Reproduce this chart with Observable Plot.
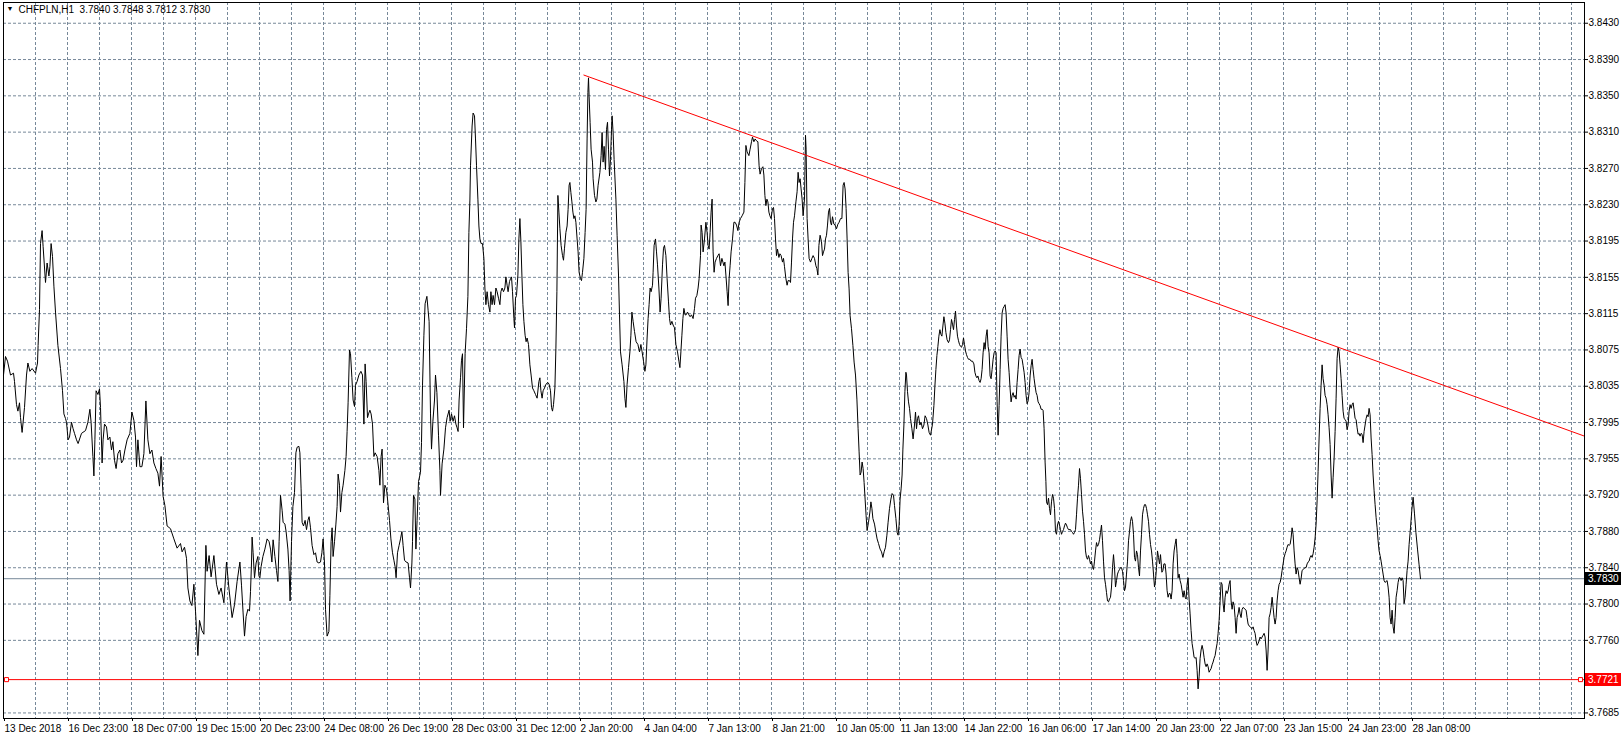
<!DOCTYPE html>
<html><head><meta charset="utf-8">
<script src="https://cdn.jsdelivr.net/npm/d3@7"></script>
<script src="https://cdn.jsdelivr.net/npm/@observablehq/plot@0.6"></script>
<style>
html,body{margin:0;padding:0;background:#fff;overflow:hidden}
#chart{width:1623px;height:739px}
</style></head><body><div id="chart"></div>
<script>
// ---------- data ----------
const symbolName = "CHFPLN,H1";
const lastOHLC = ["3.7840", "3.7848", "3.7812", "3.7830"];

const timeTickLabels = ["13 Dec 2018","16 Dec 23:00","18 Dec 07:00","19 Dec 15:00","20 Dec 23:00","24 Dec 08:00","26 Dec 19:00","28 Dec 03:00","31 Dec 12:00","2 Jan 20:00","4 Jan 04:00","7 Jan 13:00","8 Jan 21:00","10 Jan 05:00","11 Jan 13:00","14 Jan 22:00","16 Jan 06:00","17 Jan 14:00","20 Jan 23:00","22 Jan 07:00","23 Jan 15:00","24 Jan 23:00","28 Jan 08:00"];
const timeTickBars = [0,32,64,96,128,160,192,224,256,288,320,352,384,416,448,480,512,544,576,608,640,672,704];
const gridBarStep = 16;

// the level just above 3.7685 is hidden under the 3.7721 line and tag
const priceTickLabels = ["3.8430","3.8390","3.8350","3.8310","3.8270","3.8230","3.8195","3.8155","3.8115","3.8075","3.8035","3.7995","3.7955","3.7920","3.7880","3.7840","3.7800","3.7760","","3.7685"];
const priceTop = 3.8430, priceBottom = 3.7685;

const xDomain = [0, 790.5];
const yDomain = [3.76790, 3.84524];

// [bar index, close]
const closeSeries = [
[0,3.8050],[1,3.8070],[2,3.8065],[3.5,3.8050],[5,3.8052],[5.5,3.8043],[6.5,3.8018],[7.2,3.8011],[8,3.8020],[8.5,3.8004],[9.3,3.7988],[9.8,3.7999],[10.5,3.8015],[11.5,3.8050],[12.2,3.8063],[13.2,3.8054],[14.3,3.8057],[16,3.8052],[17,3.8063],[17.3,3.8082],[18,3.8121],[18.5,3.8192],[19.3,3.8206],[19.8,3.8189],[21,3.8150],[21.8,3.8171],[22.7,3.8157],[23.2,3.8167],[23.8,3.8192],[24.5,3.8178],[25.2,3.8146],[26,3.8118],[27.2,3.8082],[28.5,3.8057],[29.5,3.8033],[30.2,3.8008],[31,3.8003],[31.5,3.7999],[32.3,3.7980],[33,3.7983],[34,3.7999],[34.8,3.7992],[35.5,3.7987],[36.5,3.7980],[37.3,3.7976],[39,3.7987],[41,3.7990],[42.2,3.7999],[43.2,3.8013],[43.8,3.7999],[44.7,3.7962],[45.2,3.7941],[45.7,3.7980],[46.3,3.8033],[47.2,3.8029],[48,3.8035],[48.5,3.8015],[49.3,3.7955],[49.8,3.7980],[50.5,3.7997],[51.5,3.7994],[52.2,3.7980],[53.2,3.7983],[54,3.7969],[54.7,3.7978],[55.5,3.7958],[56.3,3.7949],[57.2,3.7965],[58.2,3.7969],[59,3.7955],[59.8,3.7958],[60.7,3.7969],[61.8,3.7980],[63.2,3.7987],[64.2,3.8010],[65.2,3.8001],[66,3.7983],[66.5,3.7951],[67.2,3.7980],[68.2,3.7951],[69.2,3.7951],[70.2,3.7965],[71.2,3.8022],[72.2,3.7980],[73.2,3.7965],[74.2,3.7969],[75.2,3.7955],[76.2,3.7949],[77.2,3.7944],[78,3.7930],[78.8,3.7962],[79.8,3.7919],[80.7,3.7909],[81.8,3.7887],[83.5,3.7884],[85.2,3.7873],[86.8,3.7863],[88.5,3.7868],[89.3,3.7859],[90.5,3.7864],[91.5,3.7852],[92.2,3.7820],[93.2,3.7806],[94.2,3.7801],[95.2,3.7824],[96,3.7795],[97.2,3.7747],[98,3.7785],[99.2,3.7774],[100.2,3.7770],[101.2,3.7866],[101.8,3.7838],[102.8,3.7855],[103.8,3.7832],[105.2,3.7855],[106.5,3.7824],[107.7,3.7813],[108.8,3.7820],[110.2,3.7804],[111.5,3.7848],[112.7,3.7820],[114.3,3.7788],[115.5,3.7802],[116.8,3.7827],[118.2,3.7848],
[119,3.7823],[119.8,3.7793],[120.5,3.7768],[121.3,3.7789],[122.2,3.7797],[123,3.7795],[123.5,3.7816],[124,3.7847],[124.3,3.7875],[124.8,3.7858],[125.5,3.7831],[126.3,3.7847],[127.2,3.7854],[127.7,3.7833],[128.2,3.7831],[128.8,3.7843],[129.7,3.7854],[130.7,3.7862],[131.8,3.7873],[132.8,3.7870],[133.5,3.7862],[134.2,3.7848],[134.8,3.7872],[135.7,3.7854],[136.5,3.7839],[137.2,3.7827],[137.8,3.7870],[138.5,3.7920],[139.3,3.7904],[139.8,3.7891],[140.7,3.7889],[141.3,3.7881],[142.2,3.7862],[142.8,3.7839],[143.3,3.7806],[144,3.7870],[144.7,3.7908],[145.5,3.7923],[146.2,3.7966],[146.8,3.7972],[147.7,3.7973],[148.2,3.7966],[148.8,3.7927],[149.3,3.7891],[150,3.7887],[150.8,3.7893],[151.5,3.7883],[152.2,3.7893],[152.8,3.7897],[153.5,3.7885],[154.3,3.7866],[155.2,3.7856],[156,3.7858],[156.8,3.7848],[157.7,3.7847],[158.5,3.7848],[159.2,3.7858],[159.8,3.7873],[160.5,3.7847],[161,3.7797],[161.8,3.7768],[162.7,3.7773],[163.2,3.7812],[163.8,3.7870],[164.3,3.7885],[164.8,3.7854],[165.5,3.7870],[166.2,3.7889],[166.8,3.7908],[167.3,3.7943],[168,3.7931],[168.5,3.7902],[169.2,3.7923],[169.8,3.7931],[170.7,3.7947],[171.3,3.7962],[171.8,3.7989],[172.3,3.8020],[173,3.8077],[173.5,3.8073],[174.2,3.8047],[174.8,3.8023],[175.5,3.8016],[176,3.8039],[176.8,3.8043],[177.7,3.8050],[178.7,3.8054],[179.5,3.8050],[180.2,3.7997],[180.8,3.8062],[181.3,3.8043],[182,3.8004],[182.5,3.8008],[183.2,3.8012],[183.8,3.8008],[184.5,3.7997],[185.2,3.7962],[185.8,3.7966],[186.8,3.7962],[187.7,3.7947],[188.2,3.7931],[188.8,3.7962],[189.3,3.7970],[190,3.7912],[190.7,3.7931],[191.5,3.7927],[192.2,3.7912],[193,3.7893],[193.7,3.7873],[194.5,3.7858],[195.2,3.7850],[195.8,3.7843],[196.3,3.7831],[197,3.7858],[197.8,3.7866],[198.5,3.7873],[199.2,3.7881],[199.8,3.7866],[200.5,3.7850],[201.3,3.7848],[202.3,3.7847],[203,3.7831],[203.5,3.7820],[204.2,3.7847],[204.5,3.7870],[205,3.7920],[205.7,3.7916],[206.2,3.7862],[206.8,3.7893],[207.5,3.7935],[208.5,3.7945],[209,3.7977],[209.5,3.8039],[210.2,3.8093],[210.8,3.8127],[211.7,3.8135],[212.3,3.8120],[212.8,3.8108],[213.5,3.8008],[214,3.7970],[214.7,3.8000],[215.5,3.8023],[216,3.8050],[216.7,3.8031],[217.5,3.7985],[218.2,3.7947],[218.5,3.7920],[219.3,3.7954],[220.2,3.7970],[221,3.7993],[221.8,3.8004],[222.8,3.8012],[223.3,3.8000],[224,3.8008],[224.8,3.8000],[225.5,3.8006],[226.2,3.7997],[226.8,3.7993],[227.3,3.7989],[227.8,3.8023],[228.5,3.8047],[229,3.8066],[229.5,3.8073],[230,3.7993],[230.8,3.8073],[231.5,3.8100],[232.2,3.8135],[232.7,3.8204],[233.2,3.8239],
[233.5,3.8276],[234.3,3.8319],[234.8,3.8333],[235.5,3.8330],[236,3.8305],[236.5,3.8276],[237.2,3.8240],[237.7,3.8211],[238.2,3.8197],[238.8,3.8192],[239.5,3.8192],[240.2,3.8176],[240.7,3.8144],[241.2,3.8126],[241.8,3.8140],[242.5,3.8126],[243.2,3.8118],[243.7,3.8140],[244.3,3.8126],[244.8,3.8136],[245.5,3.8126],[246.2,3.8144],[246.8,3.8140],[247.5,3.8133],[248.2,3.8126],[248.7,3.8140],[249.3,3.8144],[250,3.8140],[250.7,3.8144],[251.2,3.8156],[251.8,3.8147],[252.3,3.8140],[253,3.8151],[253.5,3.8154],[254,3.8156],[254.5,3.8140],[255.2,3.8111],[255.5,3.8101],[256,3.8133],[256.5,3.8136],[257.2,3.8158],[257.7,3.8197],[258.2,3.8219],[258.7,3.8194],[259.2,3.8158],[259.7,3.8126],[260.2,3.8108],[260.8,3.8093],[261.3,3.8086],[261.8,3.8090],[262.5,3.8083],[263.2,3.8061],[263.8,3.8050],[264.5,3.8036],[265.2,3.8033],[266,3.8029],[266.8,3.8025],[267.7,3.8043],[268.2,3.8047],[268.7,3.8033],[269.3,3.8025],[269.8,3.8033],[270.5,3.8036],[271.2,3.8040],[272.2,3.8042],[272.8,3.8040],[273.5,3.8033],[274,3.8015],[274.5,3.8011],[275,3.8018],[275.7,3.8036],[276.2,3.8079],[276.7,3.8140],[277.2,3.8244],[277.7,3.8226],[278.2,3.8208],[278.8,3.8190],[279.5,3.8179],[280,3.8174],[280.5,3.8187],[281.2,3.8204],[281.8,3.8211],[282.3,3.8229],[282.8,3.8255],[283.2,3.8258],[283.7,3.8247],[284.2,3.8237],[284.7,3.8226],[285.2,3.8219],[285.7,3.8222],[286.2,3.8215],[286.8,3.8197],[287.3,3.8183],[287.8,3.8161],[288.5,3.8154],[289,3.8152],[289.5,3.8161],[290.2,3.8176],[290.8,3.8204],[291.3,3.8229],[291.8,3.8305],[292.2,3.8355],[292.5,3.8371],[292.8,3.8351],[293.3,3.8323],[293.8,3.8294],[294.5,3.8280],[294.8,3.8262],[295.5,3.8244],[296.2,3.8237],[296.7,3.8240],[297.3,3.8255],[298.2,3.8269],[298.8,3.8287],[299.3,3.8312],[299.8,3.8280],[300.3,3.8297],[301,3.8272],[301.5,3.8315],[302,3.8323],[302.5,3.8294],[303,3.8265],[303.5,3.8283],[304,3.8315],[304.3,3.8330],[304.8,3.8312],[305.3,3.8283],[306.2,3.8240],[306.8,3.8201],[307.5,3.8158],[308,3.8115],[308.5,3.8075],[309.3,3.8061],[310.2,3.8043],[310.7,3.8025],[311.2,3.8015],[311.8,3.8040],[312.5,3.8058],[313.2,3.8075],[313.7,3.8093],[314.2,3.8118],[314.8,3.8108],[315.5,3.8097],[316.3,3.8086],[317.2,3.8083],[318,3.8075],[318.7,3.8083],[319.3,3.8075],[320,3.8065],[320.7,3.8054],[321.2,3.8061],[321.8,3.8090],[322.3,3.8111],[322.8,3.8126],[323.3,3.8144],[323.8,3.8140],[324.5,3.8147],[324.8,3.8161],[325.3,3.8190],[326,3.8197],[326.5,3.8183],[327,3.8169],[327.7,3.8144],[328.3,3.8118],[328.8,3.8133],[329.5,3.8169],[330,3.8187],[330.5,3.8190],[331.2,3.8179],[331.8,3.8154],[332.5,3.8129],[333,3.8111],[333.5,3.8104],[334.2,3.8108],[334.8,3.8104],[335.5,3.8101],[336.2,3.8083],[337,3.8075],[337.7,3.8065],[338.2,3.8058],[338.7,3.8075],[339.2,3.8093],[339.7,3.8111],[340.2,3.8122],[340.8,3.8115],[341.3,3.8115],[342,3.8118],[342.7,3.8115],[343.3,3.8113],[344,3.8115],[344.8,3.8111],[345.5,3.8122],[346,3.8133],[346.7,3.8136],[347.3,3.8144],[347.8,3.8154],[348.5,3.8179],
[348.8,3.8212],[349.3,3.8204],[349.8,3.8183],[350.5,3.8197],[351.2,3.8215],[351.8,3.8204],[352.3,3.8190],[352.8,3.8186],[353.3,3.8204],[353.8,3.8226],[354.3,3.8240],[354.8,3.8183],[355.3,3.8161],[355.8,3.8172],[356.5,3.8176],[357.2,3.8179],[357.8,3.8181],[358.5,3.8168],[359.2,3.8176],[359.7,3.8172],[360.2,3.8168],[360.7,3.8172],[361.2,3.8158],[361.8,3.8140],[362.3,3.8125],[362.8,3.8154],[363.3,3.8168],[363.8,3.8183],[364.5,3.8197],[365.2,3.8215],[365.8,3.8215],[366.5,3.8212],[367.2,3.8206],[367.8,3.8215],[368.5,3.8219],[369.3,3.8222],[370.2,3.8226],[370.7,3.8258],[371.2,3.8298],[371.8,3.8291],[372.7,3.8287],[373.3,3.8294],[374,3.8302],[374.5,3.8307],[375.2,3.8302],[375.8,3.8305],[376.5,3.8303],[377.2,3.8302],[377.8,3.8276],[378.3,3.8267],[379,3.8273],[379.7,3.8275],[380.2,3.8266],[380.7,3.8244],[381.2,3.8233],[381.7,3.8240],[382.2,3.8237],[382.7,3.8226],[383.2,3.8222],[383.8,3.8219],[384.5,3.8230],[385,3.8231],[385.5,3.8219],[386,3.8197],[386.5,3.8179],[387,3.8186],[387.7,3.8177],[388.2,3.8181],[388.8,3.8179],[389.5,3.8172],[390,3.8176],[390.5,3.8167],[391.2,3.8154],[391.8,3.8147],[392.3,3.8152],[393,3.8152],[393.5,3.8150],[394,3.8172],[394.5,3.8197],[395,3.8215],[395.5,3.8222],[396.2,3.8237],[396.8,3.8248],[397.3,3.8269],[397.8,3.8258],[398.3,3.8262],[398.8,3.8251],[399.3,3.8240],[399.8,3.8222],[400.5,3.8240],[401,3.8309],[401.3,3.8294],[401.8,3.8219],[402.3,3.8197],[402.8,3.8176],[403.5,3.8172],[404.2,3.8176],[404.8,3.8179],[405.5,3.8176],[406.2,3.8168],[406.7,3.8165],[407.2,3.8158],[407.7,3.8190],[408.3,3.8201],[409,3.8194],[409.5,3.8179],[410,3.8183],[410.5,3.8186],[411,3.8197],[411.5,3.8201],[412,3.8212],[412.5,3.8226],[413,3.8230],[413.5,3.8215],[414,3.8212],[414.5,3.8221],[415.2,3.8213],[415.8,3.8212],[416.5,3.8208],[417.2,3.8213],[417.8,3.8215],[418.5,3.8219],[419.2,3.8219],[419.8,3.8255],[420.3,3.8258],[420.8,3.8251],[421.3,3.8230],[421.8,3.8197],[422.3,3.8161],[422.8,3.8143],[423.3,3.8114],[424,3.8100],[424.7,3.8082],[425.3,3.8064],[426,3.8050],[426.7,3.8024],[427.3,3.7992],[427.8,3.7967],[428.3,3.7942],[428.8,3.7945],[429.3,3.7956],[429.8,3.7949],[430.3,3.7934],[430.8,3.7916],[431.3,3.7898],[431.8,3.7882],[432.5,3.7891],[433.2,3.7902],[433.7,3.7913],[434.2,3.7906],[434.7,3.7895],[435.5,3.7889],[436.2,3.7880],[436.8,3.7873],[437.5,3.7868],[438.3,3.7862],[439,3.7859],[439.7,3.7853],[440.3,3.7859],[441,3.7864],[441.7,3.7877],[442.3,3.7891],[443,3.7906],[443.7,3.7916],[444.3,3.7922],[445,3.7920],[445.5,3.7909],[446.2,3.7895],[446.8,3.7880],[447.3,3.7877],[447.8,3.7888],[448.3,3.7916],[448.8,3.7927],[449.3,3.7942],[449.7,3.7970],[450.2,3.7996],[450.7,3.8032],[451.2,3.8053],[451.5,3.8050],[452,3.8032],[452.5,3.8021],[453,3.8014],[453.5,3.8003],[454.2,3.7992],[454.8,3.7981],[455.5,3.7996],[456,3.8010],[456.5,3.7992],[457,3.8003],[457.5,3.8006],[458.2,3.7996],[458.8,3.7999],[459.5,3.7992],[460.2,3.7996],[460.8,3.8006],[461.5,3.8003],[462.2,3.7996],[462.8,3.7988],[463.5,3.7985],
[464.5,3.7997],[465.2,3.8017],[465.7,3.8038],[466.2,3.8056],[466.7,3.8071],[467.2,3.8081],[467.7,3.8092],[468.2,3.8099],[468.7,3.8094],[469.2,3.8092],[469.7,3.8103],[470.2,3.8113],[470.7,3.8106],[471.2,3.8096],[471.8,3.8088],[472.5,3.8085],[473,3.8088],[473.5,3.8099],[474,3.8110],[474.5,3.8105],[475,3.8099],[475.5,3.8110],[476,3.8119],[476.5,3.8103],[477,3.8092],[477.5,3.8087],[478,3.8083],[478.5,3.8081],[479,3.8080],[479.5,3.8083],[480,3.8090],[480.5,3.8083],[481,3.8076],[481.5,3.8072],[482,3.8069],[482.5,3.8067],[483.2,3.8067],[483.8,3.8065],[484.5,3.8065],[485.2,3.8062],[485.7,3.8053],[486.2,3.8049],[486.7,3.8047],[487.2,3.8049],[487.8,3.8044],[488.3,3.8042],[488.8,3.8046],[489.3,3.8056],[489.8,3.8074],[490.3,3.8085],[490.8,3.8078],[491.3,3.8092],[491.8,3.8099],[492.3,3.8081],[492.8,3.8074],[493.3,3.8049],[493.8,3.8046],[494.3,3.8056],[494.8,3.8067],[495.3,3.8074],[495.8,3.8076],[496.3,3.8074],[496.8,3.8021],[497.3,3.7985],[497.8,3.8017],[498.3,3.8056],[498.8,3.8092],[499.3,3.8117],[499.8,3.8122],[500.3,3.8124],[500.8,3.8126],[501.3,3.8117],[501.8,3.8092],[502.3,3.8067],[502.8,3.8053],[503.3,3.8035],[503.8,3.8021],[504.3,3.8028],[504.8,3.8031],[505.3,3.8026],[505.8,3.8028],[506.3,3.8024],[506.8,3.8042],[507.3,3.8056],[507.8,3.8071],[508.3,3.8078],[508.8,3.8069],[509.3,3.8067],[509.8,3.8060],[510.3,3.8053],[510.8,3.8042],[511.3,3.8028],[511.8,3.8019],[512.3,3.8022],[512.8,3.8031],[513.3,3.8049],[513.8,3.8060],[514.3,3.8067],[514.8,3.8056],[515.3,3.8046],[515.8,3.8038],[516.3,3.8031],[516.8,3.8028],[517.3,3.8021],[517.8,3.8019],[518.3,3.8017],[518.8,3.8013],[519.3,3.8013],[519.8,3.8012],[520.3,3.7992],[520.8,3.7956],[521.2,3.7935],[521.5,3.7913],[522,3.7910],[522.5,3.7917],[523,3.7906],[523.5,3.7899],[524,3.7913],[524.5,3.7921],[525,3.7917],[525.5,3.7906],[526,3.7881],[526.5,3.7878],[527,3.7888],[527.5,3.7892],[528,3.7888],[528.5,3.7883],[529,3.7878],[529.5,3.7881],[530,3.7883],[530.5,3.7887],[531,3.7890],[531.5,3.7888],[532,3.7885],[532.5,3.7883],[533.5,3.7883],[534,3.7881],[534.5,3.7880],[535,3.7878],[535.5,3.7880],[536,3.7883],[536.5,3.7899],[537,3.7917],[537.5,3.7931],[538,3.7949],[538.5,3.7938],[539,3.7921],[539.5,3.7903],[540,3.7892],[540.5,3.7878],[541,3.7860],[541.5,3.7853],[542,3.7851],[542.5,3.7855],[543,3.7851],[543.5,3.7846],[544,3.7849],[544.5,3.7842],[545,3.7840],[545.5,3.7849],[546,3.7860],[546.5,3.7869],[547,3.7865],[547.5,3.7867],[548,3.7872],[548.5,3.7880],[549,3.7888],[549.5,3.7871],[550,3.7849],[550.5,3.7831],[551,3.7824],[551.5,3.7815],[552,3.7806],[552.5,3.7805],[553,3.7808],[553.5,3.7810],[554,3.7821],[554.5,3.7842],[555,3.7856],[555.5,3.7842],[556,3.7821],[556.5,3.7828],[557,3.7835],[557.5,3.7838],[558,3.7840],[558.5,3.7842],[559,3.7842],[559.5,3.7838],[560,3.7828],[560.5,3.7817],[561,3.7821],[561.5,3.7835],[562,3.7849],[562.5,3.7871],[563,3.7881],[563.5,3.7892],[564,3.7897],[564.5,3.7892],[565,3.7878],[565.5,3.7853],[566,3.7849],[566.5,3.7860],[567,3.7856],[567.5,3.7842],[568,3.7833],[568.5,3.7860],[569,3.7878],[569.5,3.7899],[570,3.7906],[570.5,3.7910],[571,3.7910],[571.5,3.7906],[572,3.7899],[572.5,3.7892],[573,3.7878],[573.5,3.7867],[574,3.7860],[574.5,3.7849],[575,3.7835],[575.5,3.7821],[576,3.7828],[576.5,3.7842],[577,3.7860],[577.5,3.7853],[578,3.7846],[578.5,3.7856],
[579.2,3.7837],[579.7,3.7839],[580.2,3.7846],[580.8,3.7846],[581.3,3.7835],[581.8,3.7817],[582.3,3.7810],[582.8,3.7814],[583.3,3.7814],[583.8,3.7808],[584.3,3.7817],[584.8,3.7846],[585.3,3.7860],[585.8,3.7867],[586.3,3.7873],[586.8,3.7857],[587.3,3.7831],[587.8,3.7835],[588.3,3.7828],[588.8,3.7824],[589.3,3.7817],[589.8,3.7810],[590.3,3.7817],[590.8,3.7810],[591.3,3.7808],[591.8,3.7824],[592.3,3.7831],[592.8,3.7808],[593.3,3.7792],[593.8,3.7774],[594.3,3.7760],[594.8,3.7753],[595.3,3.7745],[595.8,3.7744],[596.3,3.7745],[596.8,3.7731],[597.3,3.7711],[597.8,3.7724],[598.3,3.7744],[598.8,3.7753],[599.3,3.7758],[599.8,3.7753],[600.3,3.7745],[600.8,3.7738],[601.3,3.7735],[601.8,3.7738],[602.3,3.7735],[602.8,3.7729],[603.3,3.7731],[603.8,3.7733],[604.3,3.7737],[604.8,3.7740],[605.3,3.7744],[605.8,3.7747],[606.3,3.7754],[606.8,3.7760],[607.3,3.7771],[607.8,3.7785],[608.3,3.7806],[608.8,3.7826],[609.3,3.7824],[609.8,3.7803],[610.3,3.7794],[610.8,3.7810],[611.3,3.7817],[611.8,3.7814],[612.3,3.7817],[612.8,3.7824],[613.3,3.7828],[613.8,3.7806],[614.3,3.7797],[614.8,3.7805],[615.3,3.7801],[615.8,3.7788],[616.3,3.7771],[616.8,3.7788],[617.3,3.7792],[617.8,3.7799],[618.3,3.7792],[618.8,3.7788],[619.3,3.7797],[619.8,3.7799],[620.8,3.7797],[621.3,3.7796],[621.8,3.7788],[622.3,3.7781],[622.8,3.7779],[623.3,3.7778],[624.3,3.7776],[624.8,3.7778],[625.3,3.7774],[625.8,3.7771],[626.3,3.7763],[626.8,3.7758],[627.3,3.7760],[627.8,3.7763],[628.3,3.7767],[628.8,3.7765],[629.3,3.7767],[629.8,3.7769],[630.3,3.7771],[630.8,3.7767],[631.3,3.7753],[631.8,3.7731],[632.3,3.7753],[632.8,3.7788],[633.3,3.7792],[633.8,3.7799],[634.3,3.7810],[634.8,3.7799],[635.3,3.7788],[635.8,3.7781],[636.3,3.7788],[636.8,3.7806],[637.3,3.7817],[637.8,3.7824],[638.3,3.7826],[638.8,3.7831],[639.3,3.7839],[639.8,3.7846],[640.3,3.7853],[640.8,3.7857],[641.3,3.7860],[641.8,3.7864],[642.3,3.7867],[642.8,3.7866],[643.3,3.7867],[643.8,3.7874],[644.3,3.7885],[644.8,3.7878],[645.3,3.7860],[645.8,3.7846],[646.3,3.7835],[646.8,3.7842],[647.3,3.7839],[647.8,3.7831],[648.3,3.7824],[648.8,3.7830],[649.3,3.7839],[649.8,3.7840],[650.8,3.7842],[651.3,3.7842],[651.8,3.7846],[652.3,3.7848],[652.8,3.7849],[653.3,3.7853],[653.8,3.7855],[654.3,3.7853],[654.8,3.7857],[655.3,3.7864],[655.8,3.7874],[656.3,3.7889],[656.8,3.7914],[657.3,3.7946],[657.8,3.7982],[658.3,3.8014],[658.8,3.8039],[659.3,3.8061],[659.8,3.8046],[660.3,3.8039],[660.8,3.8028],[661.3,3.8025],[661.8,3.8018],[662.3,3.8007],[662.8,3.7993],[663.3,3.7975],[663.8,3.7942],[664.3,3.7917],[664.8,3.7939],[665.3,3.7960],[665.8,3.7989],[666.3,3.8025],[666.8,3.8068],[667.3,3.8080],[667.8,3.8075],[668.3,3.8061],[668.8,3.8046],[669.3,3.8028],[669.8,3.8011],[670.3,3.8003],[670.8,3.8002],[671.3,3.8000],[671.8,3.7991],[672.3,3.7996],[672.8,3.8011],[673.3,3.8018],[673.8,3.8014],[674.3,3.8018],[674.8,3.8020],[675.3,3.8012],[675.8,3.8003],[676.3,3.8002],[676.8,3.7993],[677.3,3.7986],[677.8,3.7987],[678.3,3.7984],[678.8,3.7987],[679.3,3.7986],[679.8,3.7977],[680.3,3.7989],[680.8,3.7996],[681.3,3.8003],[681.8,3.8007],[682.3,3.8005],[682.8,3.8014],[683.3,3.8007],[683.8,3.7982],[684.3,3.7964],[684.8,3.7942],[685.3,3.7925],[685.8,3.7910],[686.3,3.7896],[686.8,3.7885],[687.3,3.7871],[687.8,3.7860],[688.3,3.7855],[688.8,3.7849],[689.3,3.7842],[689.8,3.7835],[690.3,3.7828],[690.8,3.7826],[691.8,3.7828],[692.3,3.7821],[692.8,3.7810],[693.3,3.7788],[693.8,3.7781],[694.3,3.7796],[694.8,3.7778],[695.3,3.7771],[695.8,3.7788],[696.3,3.7810],[696.8,3.7817],[697.3,3.7826],[697.8,3.7831],[698.3,3.7831],[698.8,3.7828],[699.3,3.7831],[699.8,3.7828],[700.3,3.7803],[700.8,3.7810],[701.3,3.7824],[701.8,3.7839],[702.3,3.7849],[702.8,3.7867],[703.5,3.7885],[704.2,3.7905],[704.8,3.7918],[705.5,3.7900],[706.2,3.7880],[707,3.7862],[707.8,3.7845],[708.5,3.7830]
];

// trend line (ray) anchor points: [bar index, price]
const trendLine = [[290.2, 3.8374], [790.5, 3.7984]];
const currentPrice = 3.7830;
const levelPrice = 3.7721;

// ---------- chart ----------
const W = 1623, H = 739;
const gridColor = "#778899";
const nY = priceTickLabels.length;
const yTicks = priceTickLabels.map((_, i) => priceTop - i * (priceTop - priceBottom) / (nY - 1));
const yGrid = yTicks.filter((_, i) => priceTickLabels[i] !== "");
const yLabelMap = new Map(yTicks.map((v, i) => [v, priceTickLabels[i]]));
const xLabelMap = new Map(timeTickBars.map((v, i) => [v, timeTickLabels[i]]));
const gridBars = d3.range(0, xDomain[1], gridBarStep);
const titleText = symbolName + "\u00a0\u00a0" + lastOHLC.join(" ");

const plot = Plot.plot({
  width: W, height: H,
  marginLeft: 3, marginRight: 39, marginTop: 2, marginBottom: 21,
  style: {fontFamily: "'Liberation Sans', Arial, sans-serif", fontSize: "10px", background: "#ffffff", color: "#000000", overflow: "visible"},
  x: {type: "linear", domain: xDomain},
  y: {type: "linear", domain: yDomain},
  marks: [
    Plot.gridX(gridBars, {stroke: gridColor, strokeOpacity: 1, strokeDasharray: "3,2"}),
    Plot.gridY(yGrid, {stroke: gridColor, strokeOpacity: 1, strokeDasharray: "3,2"}),
    Plot.ruleY([currentPrice], {stroke: gridColor, strokeWidth: 1}),
    Plot.ruleY([levelPrice], {stroke: "#ff0000", strokeWidth: 1}),
    Plot.line(closeSeries, {x: d => d[0], y: d => d[1], stroke: "#000000", strokeWidth: 1}),
    Plot.line(trendLine, {x: d => d[0], y: d => d[1], stroke: "#ff0000", strokeWidth: 1}),
    Plot.dot([levelPrice], {y: d => d, frameAnchor: "left", dx: 3, symbol: "square", r: 2.3, fill: "#ffffff", stroke: "#ff0000", strokeWidth: 1}),
    Plot.dot([levelPrice], {y: d => d, frameAnchor: "right", dx: -4, symbol: "square", r: 2.3, fill: "#ffffff", stroke: "#ff0000", strokeWidth: 1}),
    Plot.frame({stroke: "#000000"}),
    Plot.axisX(timeTickBars, {tickFormat: d => xLabelMap.get(d), tickSize: 3, tickPadding: 3, textAnchor: "start", dx: 1, stroke: "#000"}),
    Plot.axisY(yGrid, {anchor: "right", tickFormat: d => yLabelMap.get(d), tickSize: 3, tickPadding: 1, stroke: "#000"}),
    Plot.text([titleText], {frameAnchor: "top-left", dx: 15, dy: 3, textAnchor: "start", lineAnchor: "top", fill: "#000"}),
    Plot.text(["\u25BC"], {frameAnchor: "top-left", dx: 3, dy: 4, textAnchor: "start", lineAnchor: "top", fontSize: 7, fill: "#000"})
  ]
});

// price tags on the right axis (positioned with the plot's own y scale)
const yScale = plot.scale("y");
function priceBox(value, bg, label) {
  const y = yScale.apply(value);
  const g = d3.select(plot).append("g").attr("text-anchor", "start");
  g.append("rect").attr("x", W - 39 + 1).attr("y", Math.round(y) - 6).attr("width", 36).attr("height", 13).attr("fill", bg);
  g.append("text").attr("x", W - 39 + 4).attr("y", y).attr("dy", "0.36em")
    .attr("text-anchor", "start").attr("fill", "#ffffff").attr("font-size", 10).text(label);
}
priceBox(currentPrice, "#000000", currentPrice.toFixed(4));
priceBox(levelPrice, "#ff0000", levelPrice.toFixed(4));

document.getElementById("chart").appendChild(plot);
</script>
</body></html>
